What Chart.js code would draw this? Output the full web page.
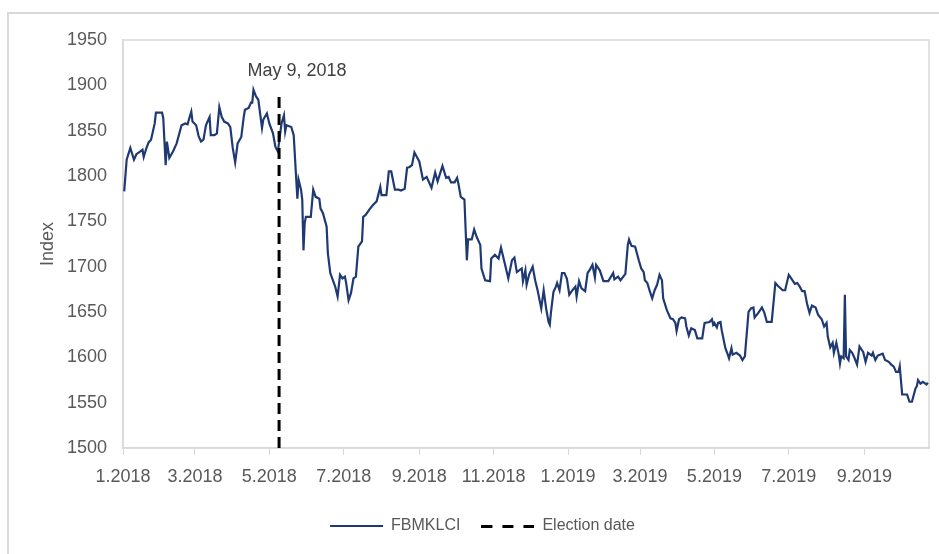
<!DOCTYPE html>
<html>
<head>
<meta charset="utf-8">
<script src="https://cdn.jsdelivr.net/npm/chart.js@4.4.1/dist/chart.umd.min.js"></script>
<style>
  html, body { margin: 0; padding: 0; background: #fff; }
  #wrap { position: relative; width: 939px; height: 554px; overflow: hidden; }
  #frame { position: absolute; left: 7px; top: 12px; width: 1000px; height: 700px; border: 2px solid #d9d9d9; }
  #chart { position: absolute; left: 0; top: 0; }
</style>
</head>
<body>
<div id="wrap">
  <div id="frame"></div>
  <canvas id="chart" width="939" height="554"></canvas>
</div>
<script>
// days counted from 1 Jan 2018
const tradingDay = [
  1, 3, 6, 9, 11, 14, 16, 17, 19, 21,
  23, 26, 27, 32, 33, 35, 36, 38, 41, 44,
  48, 51, 53, 54, 56, 57, 60, 62, 64, 66,
  68, 71, 72, 75, 77, 79, 81, 83, 86, 88,
  90, 92, 94, 97, 99, 100, 103, 105, 106, 107,
  109, 111, 114, 115, 118, 120, 123, 125, 127, 130,
  132, 133, 134, 138, 140, 142, 143, 144, 146, 147,
  148, 149, 150, 154, 156, 158, 161, 162, 164, 167,
  168, 170, 174, 176, 178, 180, 182, 183, 185, 187,
  189, 191, 193, 196, 197, 199, 202, 205, 208, 211,
  212, 216, 218, 220, 223, 226, 228, 231, 233, 235,
  237, 239, 241, 243, 246, 249, 253, 256, 258, 262,
  265, 267, 269, 272, 274, 275, 277, 280, 282, 283,
  286, 288, 290, 293, 294, 297, 301, 302, 305, 308,
  310, 313, 316, 319, 321, 323, 327, 328, 330, 331,
  333, 336, 338, 340, 343, 345, 347, 349, 350, 351,
  353, 355, 356, 358, 360, 362, 364, 366, 368, 371,
  372, 374, 376, 379, 381, 383, 385, 387, 388, 391,
  394, 398, 402, 403, 406, 408, 412, 414, 415, 417,
  420, 423, 425, 427, 428, 430, 432, 434, 436, 438,
  440, 442, 443, 446, 449, 451, 453, 454, 456, 458,
  461, 462, 464, 466, 469, 471, 475, 476, 477, 481,
  483, 484, 485, 487, 488, 490, 491, 494, 496, 497,
  499, 500, 503, 506, 508, 510, 513, 515, 517, 518,
  521, 524, 526, 528, 532, 535, 537, 541, 543, 546,
  548, 551, 553, 555, 557, 559, 561, 563, 565, 568,
  570, 573, 575, 577, 578, 580, 582, 583, 585, 587,
  588, 589, 591, 592, 593, 595, 596, 598, 600, 602,
  604, 607, 609, 611, 614, 615, 617, 619, 623, 625,
  628, 630, 632, 634, 636, 637, 639, 643, 645, 647,
  650, 651, 652, 654, 656, 659, 660,
];

const fbmklci = [
  1783, 1818, 1831, 1818, 1824, 1827, 1829, 1821, 1830, 1837,
  1840, 1858, 1870, 1870, 1864, 1812, 1838, 1820, 1827, 1836,
  1856, 1858, 1857, 1862, 1871, 1860, 1856, 1844, 1838, 1840,
  1856, 1865, 1845, 1845, 1847, 1876, 1865, 1860, 1858, 1854,
  1831, 1815, 1836, 1843, 1865, 1873, 1875, 1881, 1881, 1895,
  1888, 1884, 1853, 1862, 1869, 1858, 1847, 1832, 1827, 1858,
  1867, 1849, 1856, 1854, 1845, 1798, 1775, 1796, 1785, 1774,
  1718, 1748, 1755, 1755, 1785, 1777, 1775, 1764, 1759, 1744,
  1715, 1693, 1678, 1667, 1691, 1687, 1689, 1682, 1663, 1671,
  1687, 1689, 1722, 1728, 1755, 1757, 1763, 1768, 1772, 1788,
  1779, 1779, 1805, 1805, 1785, 1785, 1784, 1786, 1809, 1810,
  1812, 1826, 1821, 1816, 1796, 1799, 1787, 1804, 1794, 1811,
  1798, 1799, 1793, 1793, 1798, 1792, 1777, 1774, 1707, 1730,
  1730, 1741, 1733, 1724, 1698, 1685, 1684, 1709, 1713, 1709,
  1721, 1704, 1687, 1707, 1710, 1694, 1698, 1684, 1696, 1680,
  1691, 1700, 1685, 1674, 1654, 1674, 1654, 1639, 1636, 1650,
  1672, 1678, 1682, 1674, 1693, 1693, 1687, 1669, 1673, 1678,
  1667, 1684, 1676, 1673, 1693, 1697, 1702, 1688, 1702, 1696,
  1684, 1684, 1693, 1686, 1689, 1685, 1692, 1724, 1730, 1723,
  1722, 1707, 1698, 1694, 1685, 1682, 1673, 1665, 1674, 1680,
  1691, 1685, 1665, 1652, 1643, 1642, 1638, 1629, 1642, 1644,
  1643, 1634, 1624, 1632, 1630, 1621, 1621, 1630, 1638, 1639,
  1642, 1636, 1638, 1633, 1638, 1639, 1630, 1610, 1603, 1599,
  1610, 1603, 1605, 1602, 1597, 1601, 1650, 1654, 1655, 1644,
  1649, 1655, 1649, 1639, 1639, 1682, 1679, 1674, 1674, 1691,
  1687, 1681, 1682, 1678, 1673, 1673, 1659, 1649, 1657, 1655,
  1647, 1642, 1634, 1638, 1623, 1611, 1616, 1605, 1616, 1603,
  1593, 1601, 1599, 1669, 1601, 1597, 1608, 1605, 1599, 1592,
  1612, 1606, 1595, 1605, 1602, 1605, 1597, 1602, 1604, 1597,
  1595, 1592, 1590, 1584, 1584, 1590, 1559, 1559, 1551, 1551,
  1566, 1568, 1575, 1571, 1573, 1570, 1572,
];

const tickLabels = ['1.2018', '3.2018', '5.2018', '7.2018', '9.2018', '11.2018',
  '1.2019', '3.2019', '5.2019', '7.2019', '9.2019'];
const electionDate = [2018, 5, 9];
const electionLabel = 'May 9, 2018';
const electionRange = [1500, 1889];
const yRange = [1500, 1950];
const xEndDay = 661;

const font = "'Liberation Sans', Arial, sans-serif";
const axisGrey = '#595959';
const lineGrey = '#d9d9d9';
const navy = '#1f3a73';

const DAY = 86400000;
const base = Date.UTC(2018, 0, 1);
const dayOf = (y, m, d) => (Date.UTC(y, m - 1, d) - base) / DAY;
const tickDays = tickLabels.map((label) => {
  const [m, y] = label.split('.').map(Number);
  return dayOf(y, m, 1);
});
const electionDay = dayOf(...electionDate);

// legend sample for the dashed series (legend point styles ignore borderDash)
function dashSample(width, color) {
  const c = document.createElement('canvas');
  c.width = width;
  c.height = 3;
  const g = c.getContext('2d');
  g.strokeStyle = color;
  g.lineWidth = 3;
  g.setLineDash([11, 10]);
  g.beginPath();
  g.moveTo(0, 1.5);
  g.lineTo(width, 1.5);
  g.stroke();
  return c;
}

// light frame round the plot area
const plotBorder = {
  id: 'plotBorder',
  beforeDatasetsDraw(chart) {
    const { ctx, chartArea: a } = chart;
    ctx.save();
    ctx.strokeStyle = lineGrey;
    ctx.lineWidth = 1.5;
    ctx.strokeRect(a.left, a.top, a.right - a.left, a.bottom - a.top);
    ctx.restore();
  },
};

// "May 9, 2018" above the dashed line
const electionText = {
  id: 'electionText',
  afterDatasetsDraw(chart) {
    const { ctx, scales } = chart;
    const x = scales.x.getPixelForValue(electionDay);
    const y = scales.y.getPixelForValue(electionRange[1]);
    ctx.save();
    ctx.font = `18px ${font}`;
    ctx.fillStyle = '#404040';
    ctx.textAlign = 'center';
    ctx.textBaseline = 'middle';
    ctx.fillText(electionLabel, x + 18, y - 24);
    ctx.restore();
  },
};

new Chart(document.getElementById('chart'), {
  type: 'line',
  data: {
    datasets: [
      {
        label: 'FBMKLCI',
        data: tradingDay.map((d, i) => ({ x: d, y: fbmklci[i] })),
        borderColor: navy,
        backgroundColor: navy,
        borderWidth: 2.2,
        pointRadius: 0,
        pointStyle: 'line',
        tension: 0,
        order: 2,
      },
      {
        label: 'Election date',
        data: electionRange.map((v) => ({ x: electionDay, y: v })),
        borderColor: '#000',
        backgroundColor: '#000',
        borderWidth: 3,
        borderDash: [11, 6],
        pointRadius: 0,
        pointStyle: dashSample(53, '#000'),
        order: 1,
      },
    ],
  },
  options: {
    responsive: false,
    animation: false,
    layout: { padding: { top: 40, left: 36, right: 10, bottom: 10 } },
    plugins: {
      tooltip: { enabled: false },
      legend: {
        position: 'bottom',
        labels: {
          usePointStyle: true,
          pointStyleWidth: 53,
          padding: 21,
          color: axisGrey,
          font: { family: font, size: 16 },
          sort: (a, b) => a.datasetIndex - b.datasetIndex,
        },
      },
    },
    scales: {
      x: {
        type: 'linear',
        min: 0,
        max: xEndDay,
        afterBuildTicks: (scale) => { scale.ticks = tickDays.map((v) => ({ value: v })); },
        afterFit: (scale) => { scale.height = 49; },
        ticks: {
          autoSkip: false,
          maxRotation: 0,
          padding: 11,
          color: axisGrey,
          font: { family: font, size: 18 },
          callback: (value, index) => tickLabels[index],
        },
        grid: { drawOnChartArea: false, drawTicks: true, tickLength: 7, color: lineGrey },
        border: { color: lineGrey, width: 1.5 },
      },
      y: {
        min: yRange[0],
        max: yRange[1],
        afterFit: (scale) => { scale.width = 87; },
        ticks: {
          stepSize: 50,
          padding: 16,
          color: axisGrey,
          font: { family: font, size: 18 },
          callback: (value) => String(value),
        },
        grid: { display: false, drawTicks: false },
        border: { color: lineGrey, width: 1.5 },
        title: {
          display: true,
          text: 'Index',
          color: axisGrey,
          padding: { top: 1, bottom: 0 },
          font: { family: font, size: 18 },
        },
      },
    },
  },
  plugins: [plotBorder, electionText],
});
</script>
</body>
</html>
